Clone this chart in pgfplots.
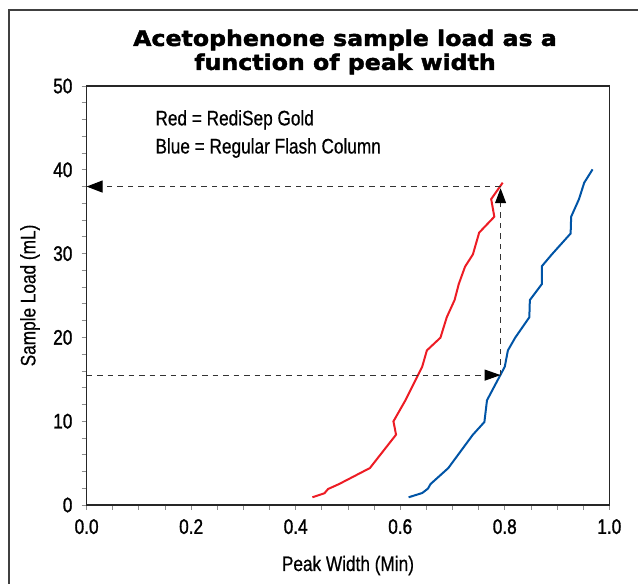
\documentclass[border=0pt]{standalone}
\usepackage{fontspec}
\setmainfont{Liberation Sans}[FakeStretch=0.82, FakeBold=0.6]
\newfontfamily\titlefont{DejaVu Sans Bold}[FakeStretch=1.1, FakeBold=2]
\newfontfamily\tickfont{Liberation Sans}[FakeStretch=0.82, FakeBold=1.3]
\usepackage{pgfplots}
\pgfplotsset{compat=1.18}
\usetikzlibrary{arrows.meta}

\definecolor{redisep}{RGB}{237,28,36}
\definecolor{flashblue}{RGB}{0,84,166}

% red = RediSep Gold, blue = regular flash column
\pgfplotstableread{
x y
0.432 0.92
0.455 1.40
0.462 1.91
0.483 2.50
0.542 4.41
0.592 8.39
0.587 9.98
0.610 12.5
0.642 16.5
0.651 18.45
0.677 19.97
0.689 22.4
0.704 24.46
0.712 26.37
0.724 28.44
0.739 29.9
0.751 32.5
0.780 34.4
0.774 36.5
0.796 38.46
}\redtable

\pgfplotstableread{
x y
0.616 0.92
0.642 1.43
0.653 1.95
0.658 2.50
0.692 4.41
0.739 8.39
0.761 9.9
0.766 12.5
0.800 16.5
0.806 18.45
0.820 19.97
0.847 22.4
0.848 24.46
0.871 26.37
0.871 28.5
0.890 29.9
0.926 32.4
0.927 34.4
0.942 36.5
0.952 38.46
0.968 40.05
}\bluetable

\begin{document}
\fontsize{21bp}{25bp}\selectfont
\begin{tikzpicture}[x=1bp,y=1bp]
\useasboundingbox (-86.6,-79) rectangle (551.4,505);
\draw[line width=2bp, black!75] (-77.6,-120) -- (-77.6,495) -- (600,495);
\node[font=\titlefont\fontsize{21.5bp}{24bp}\selectfont, align=center] at (258.4,453)
  {Acetophenone sample load as a\\function of peak width};
\begin{axis}[
  at={(0,0)}, anchor=south west,
  scale only axis,
  width=522.7bp, height=419bp,
  xmin=0, xmax=1, ymin=0, ymax=50,
  xtick={0,0.2,...,1.0},
  ytick={0,10,...,50},
  minor x tick num=3,
  minor y tick num=4,
  tick align=outside,
  xtick pos=left, ytick pos=left,
  major tick length=5bp, minor tick length=5bp,
  every tick/.style={black!45, line width=0.8bp},
  axis line style={black!85, line width=1.2bp},
  /pgf/number format/assume math mode=true,
  ticklabel style={font=\tickfont\fontsize{21bp}{25bp}\selectfont},
  xticklabel style={yshift=-2bp, /pgf/number format/.cd, fixed, fixed zerofill, precision=1},
  yticklabel style={xshift=-2bp},
  xlabel={Peak Width (Min)},
  ylabel={Sample Load (mL)},
  xlabel style={at={(axis description cs:0.5,-0.1575)}, anchor=base},
  ylabel style={at={(axis description cs:-0.1083,0.5)}, anchor=center},
  clip=false,
]
\addplot[redisep, line width=2bp, no markers] table {\redtable};
\addplot[flashblue, line width=2bp, no markers] table {\bluetable};
% guide arrows
\addplot[black!80, line width=1.1bp, dash pattern=on 5.5bp off 5bp, no markers,
  -{Triangle[length=16bp,width=12bp,color=black]}] coordinates {(0.792,38) (0,38)};
\addplot[black!80, line width=1.1bp, dash pattern=on 5.5bp off 5bp, no markers,
  -{Triangle[length=16bp,width=11bp,color=black]}] coordinates {(0,15.5) (0.792,15.5)};
\addplot[black!80, line width=1.1bp, dash pattern=on 5.5bp off 5bp, no markers,
  -{Triangle[length=15bp,width=11bp,color=black]}] coordinates {(0.792,15.5) (0.792,37.8)};
\node[anchor=base west, align=left] at (axis cs:0.118,45.3) {Red = RediSep Gold};
\node[anchor=base west, align=left] at (axis cs:0.118,41.95) {Blue = Regular Flash Column};
\end{axis}
\end{tikzpicture}
\end{document}
